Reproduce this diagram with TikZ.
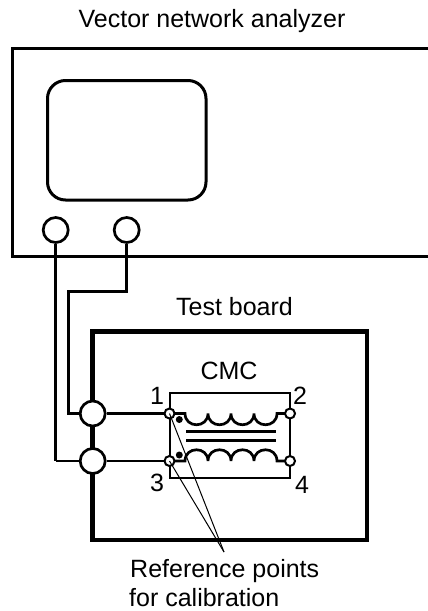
\documentclass[tikz,border=0pt]{standalone}
\usepackage{fontspec}
\setmainfont{Liberation Sans}
\tikzset{
 wire/.style={line width=2.7pt},
 frame/.style={line width=3pt},
 board/.style={line width=4.4pt},
 leader/.style={line width=1pt},
 cmcbox/.style={line width=2pt},
 bigport/.style={circle,draw,fill=white,line width=2.7pt,minimum size=25pt,inner sep=0pt},
 bnc/.style={circle,draw,fill=white,line width=2.7pt,minimum size=25pt,inner sep=0pt},
 pad/.style={circle,draw,fill=white,line width=2pt,minimum size=10pt,inner sep=0pt},
 lab/.style={font=\fontsize{25}{29}\selectfont,inner sep=0pt},
 dotmark/.style={circle,fill=black,minimum size=7pt,inner sep=0pt},
}
\begin{document}
\begin{tikzpicture}[x=1pt,y=-1pt]
\useasboundingbox (0,0) rectangle (428,611);
\coordinate (fr1) at (428,48);
\coordinate (fr2) at (12.5,48);
\coordinate (fr3) at (12.5,256.5);
\coordinate (fr4) at (428,256.5);
\draw[frame] (fr1) -- (fr2) -- (fr3) -- (fr4);
\draw[frame,rounded corners=18pt] (47.5,80.5) rectangle (206,200);
\node[lab,anchor=base] (title) at (212,27) {Vector network analyzer};
\node[lab,anchor=base] (tb) at (234.5,315) {Test board};
\node[lab,anchor=base] (cmc) at (229,379) {CMC};
\draw[board] (92.5,331.5) rectangle (367,540);
\coordinate (w1) at (55.7,461);
\coordinate (w2a) at (126.7,291.7);
\coordinate (w2b) at (68.3,291.7);
\coordinate (w2c) at (68.3,413.5);
\coordinate (ref) at (224,552);
\node[bnc] (a) at (55.7,230) {};
\node[bnc] (b) at (126.7,230) {};
\draw[wire] (a) -- (w1);
\draw[wire] (w1) -- (92.7,461);
\draw[wire] (b) -- (w2a) -- (w2b) -- (w2c) -- (92.7,413.5);
\node[bigport] (p1) at (92.7,413.5) {};
\node[bigport] (p2) at (92.7,461) {};
\coordinate (c1) at (169.5,392.8);
\coordinate (c2) at (290,392.8);
\coordinate (c3) at (169.5,478);
\coordinate (c4) at (290,478);
\draw[cmcbox] (169.5,461) -- (169.5,413.5) -- (c1) -- (c2) -- (290,461) -- (c4) -- (c3) -- cycle;
\draw[wire] (p1) -- (169.5,413.5);
\draw[wire] (p2) -- (169.5,461);
% windings
\draw[wire] (169.5,413.5) -- (185,413.5)
  .. controls (185,428.5) and (208,428.5) .. (208,413.5)
  .. controls (208,428.5) and (231,428.5) .. (231,413.5)
  .. controls (231,428.5) and (254,428.5) .. (254,413.5)
  .. controls (254,428.5) and (277,428.5) .. (277,413.5) -- (290,413.5);
\draw[wire] (169.5,461) -- (185,461)
  .. controls (185,446) and (208,446) .. (208,461)
  .. controls (208,446) and (231,446) .. (231,461)
  .. controls (231,446) and (254,446) .. (254,461)
  .. controls (254,446) and (277,446) .. (277,461) -- (290,461);
\coordinate (core1a) at (186,431.8);
\coordinate (core1b) at (276,431.8);
\coordinate (core2a) at (186,440.8);
\coordinate (core2b) at (276,440.8);
\draw[wire] (core1a) -- (core1b);
\draw[wire] (core2a) -- (core2b);
\node[pad] (t1) at (169.5,413.5) {};
\node[pad] (t2) at (290,413.5) {};
\node[pad] (t3) at (169.5,461) {};
\node[pad] (t4) at (290,461) {};
\node[dotmark] (d1) at (179.3,419.5) {};
\node[dotmark] (d2) at (179.3,455) {};
\node[lab] (n1) at (157,395.5) {1};
\node[lab] (n2) at (300,395.5) {2};
\node[lab] (n3) at (157,483) {3};
\node[lab] (n4) at (302,485) {4};
\draw[leader] (t1.center) -- (ref);
\draw[leader] (t3.center) -- (ref);
\node[lab,anchor=base west] (r1) at (130,577) {Reference points};
\node[lab,anchor=base west] (r2) at (129,606) {for calibration};
\end{tikzpicture}
\end{document}
